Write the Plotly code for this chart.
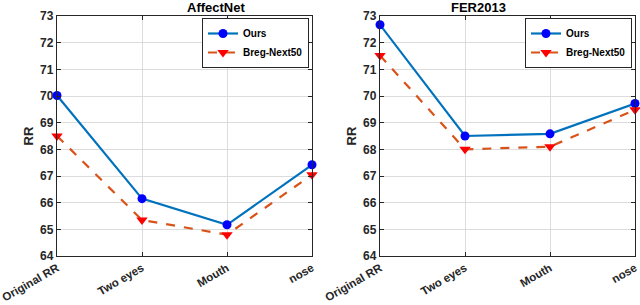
import plotly.graph_objects as go
from plotly.subplots import make_subplots

categories = ["Original RR", "Two eyes", "Mouth", "nose"]
affectnet_ours = [70.02, 66.15, 65.17, 67.42]
affectnet_breg = [68.5, 65.35, 64.8, 67.05]
fer_ours = [72.67, 68.5, 68.58, 69.72]
fer_breg = [71.52, 68.0, 68.1, 69.48]
titles = ["AffectNet", "FER2013"]
yticks = [64, 65, 66, 67, 68, 69, 70, 71, 72, 73]

FONT = "Liberation Sans, Arial, sans-serif"
DARK = "#262626"

fig = make_subplots(rows=1, cols=2)
xs = list(range(len(categories)))

for col, (ours, breg, leg) in enumerate(
    [(affectnet_ours, affectnet_breg, "legend"), (fer_ours, fer_breg, "legend2")], start=1
):
    fig.add_trace(go.Scatter(
        x=xs, y=ours, mode="lines+markers", name="Ours",
        line=dict(color="#0072BD", width=2.2),
        marker=dict(color="#0000FF", size=9, symbol="circle"),
        cliponaxis=False, legend=leg,
    ), row=1, col=col)
    fig.add_trace(go.Scatter(
        x=xs, y=breg, mode="lines+markers", name="Breg-Next50",
        line=dict(color="#D95319", width=2.2, dash="dash"),
        marker=dict(color="#FF0000", size=10, symbol="triangle-down"),
        cliponaxis=False, legend=leg,
    ), row=1, col=col)

xdomains = [[57/640, 312/640], [380/640, 635/640]]
ydom = [1 - 256/305, 1 - 16/305]
for i in range(2):
    ax = dict(
        domain=xdomains[i], range=[0, 3], tickmode="array", tickvals=xs, ticktext=categories,
        tickangle=-30, ticks="inside", ticklen=4, tickcolor=DARK, showline=True, linecolor=DARK,
        linewidth=1.3, mirror="ticks", showgrid=True, gridcolor="#DCDCDC", gridwidth=1,
        zeroline=False, automargin=False, ticklabeloverflow="allow",
        tickfont=dict(family=FONT, size=11.5, color=DARK, weight="bold"),
    )
    ay = dict(
        domain=ydom, range=[64, 73], tickmode="array", tickvals=yticks,
        ticks="inside", ticklen=4, tickcolor=DARK, showline=True, linecolor=DARK,
        linewidth=1.3, mirror="ticks", showgrid=True, gridcolor="#DCDCDC", gridwidth=1,
        zeroline=False, automargin=False,
        tickfont=dict(family=FONT, size=12, color=DARK, weight="bold"),
        title=dict(text="<b>RR</b>", font=dict(family=FONT, size=13, color=DARK), standoff=3),
    )
    fig.update_xaxes(**ax, row=1, col=i + 1)
    fig.update_yaxes(**ay, row=1, col=i + 1)

annotations = []
for i, t in enumerate(titles):
    annotations.append(dict(
        text=f"<b>{t}</b>", x=sum(xdomains[i]) / 2, y=1 - 7/305, xref="paper", yref="paper",
        showarrow=False, font=dict(family=FONT, size=13, color="black"), yanchor="middle",
    ))

legstyle = dict(
    bgcolor="white", bordercolor=DARK, borderwidth=1,
    font=dict(family=FONT, size=10, color="black", weight="bold"),
    xanchor="right", yanchor="top", tracegroupgap=0, itemwidth=30,
)
fig.update_layout(
    width=640, height=305, margin=dict(l=0, r=0, t=0, b=0),
    paper_bgcolor="white", plot_bgcolor="white",
    font=dict(family=FONT, size=12, color=DARK, weight="bold"),
    annotations=annotations,
    legend=dict(**legstyle, x=309/640, y=1 - 18/305),
    legend2=dict(**legstyle, x=632/640, y=1 - 18/305),
)

fig.write_html(
    "out.html",
    config={"displayModeBar": False},
    post_script="document.body.style.margin='0';document.body.style.padding='0';",
)
